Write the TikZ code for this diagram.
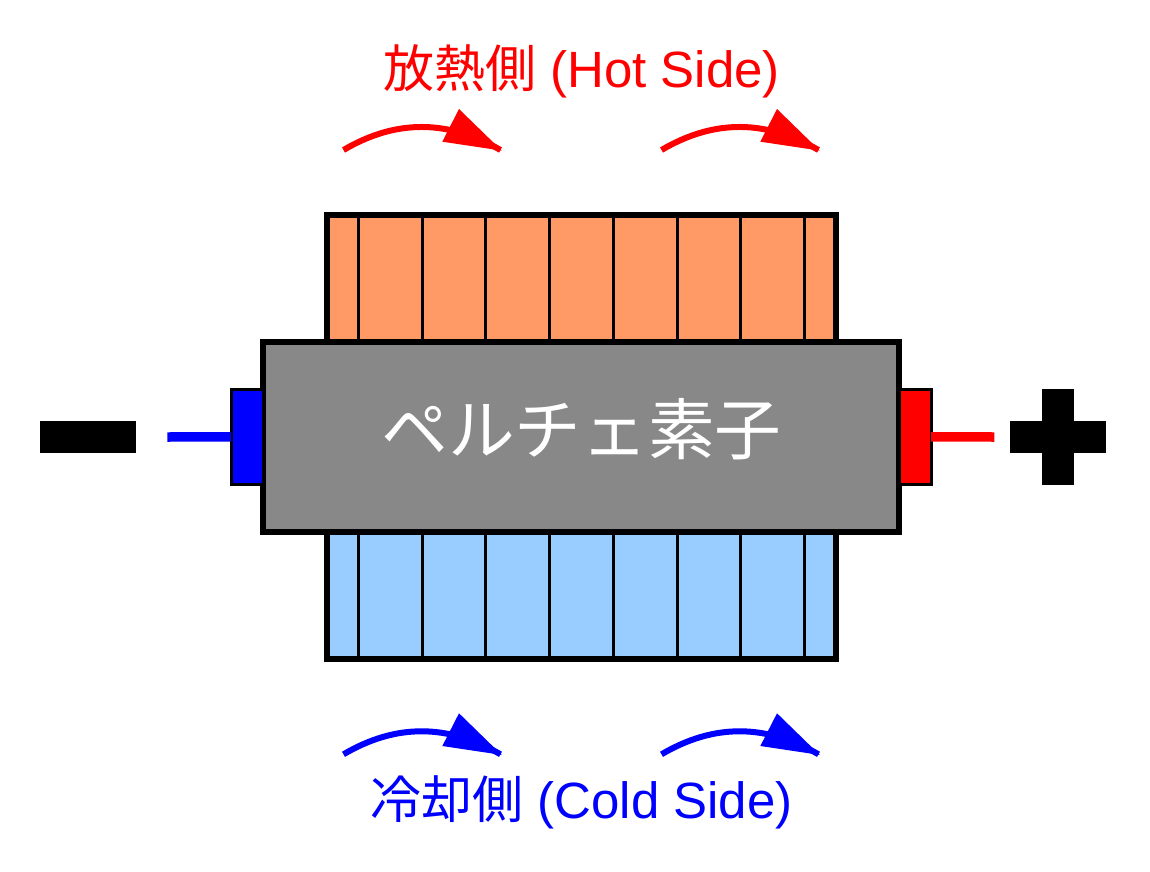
\documentclass[tikz,border=0pt]{standalone}
\usepackage{fontspec}
\setmainfont{Liberation Sans}
\newfontfamily\cjk{Noto Sans CJK JP}
\definecolor{hotfill}{HTML}{FF9966}
\definecolor{coldfill}{HTML}{99CCFF}
\definecolor{bodyfill}{HTML}{888888}
\definecolor{hotline}{HTML}{FF0000}
\definecolor{coldline}{HTML}{0000FF}
\tikzset{
  plate/.style={draw=black,line width=6pt,inner sep=0pt,outer sep=0pt,anchor=north west},
  fin/.style={draw=black,line width=3pt},
  terminal/.style={draw=black,line width=3pt,inner sep=0pt,outer sep=0pt,anchor=north west,minimum width=32pt,minimum height=95.5pt},
  wire/.style={line width=9.5pt},
  flow/.style={line width=6pt},
  sign/.style={fill=black,draw=none,inner sep=0pt,outer sep=0pt},
  label/.style={inner sep=0pt,font=\fontsize{51}{51}\selectfont},
  bodylabel/.style={inner sep=0pt,font=\fontsize{66.7}{67}\selectfont}
}
\newcommand{\flowarrow}[4]{% name, colour, dx, dy
  \begin{scope}[shift={(#3,#4)}]
    \coordinate (#1s) at (343.5,150);
    \coordinate (#1e) at (500.5,150);
    \draw[flow,#2] (#1s) .. controls (395.7,119.3) and (447.3,119.3) .. (#1e);
    \fill[#2] (459,109) -- (501.7,150.6) -- (442.3,141.7) -- cycle;
  \end{scope}}
\begin{document}
\begin{tikzpicture}[x=1pt,y=-1pt]
\useasboundingbox (0,0) rectangle (1150,871);
\fill[white] (0,0) rectangle (1150,871);
% hot and cold stacks
\node[plate,fill=hotfill,minimum width=509pt,minimum height=127.5pt] (hot) at (326.5,214.5) {};
\node[plate,fill=coldfill,minimum width=509pt,minimum height=127pt] (cold) at (326.5,532) {};
\foreach \x in {358.3,422,485.8,549.5,613.2,677,740.8,804.3}{
  \draw[fin] (\x,214.5) -- (\x,342);
  \draw[fin] (\x,532) -- (\x,659);
}
\draw[black,line width=6pt] (hot.north west) rectangle (hot.south east);
\draw[black,line width=6pt] (cold.north west) rectangle (cold.south east);
% element
\node[plate,fill=bodyfill,minimum width=636pt,minimum height=190.5pt] (body) at (263,341.7) {};
\node[bodylabel,white] (bodytext) at (581.5,429.5) {\cjk ペルチェ素子};
% terminals
\node[terminal,fill=coldline] (neg) at (231,389) {};
\node[terminal,fill=hotline] (pos) at (899,389) {};
\coordinate (negend) at (167.3,437);
\coordinate (posend) at (994.3,437);
\draw[wire,coldline] (negend) -- (neg.west);
\draw[wire,hotline] (pos.east) -- (posend);
% signs
\node[sign,minimum width=95.7pt,minimum height=32pt] (minus) at (87.85,436.7) {};
\node[sign,minimum width=95.7pt,minimum height=32pt] (plush) at (1057.85,436.85) {};
\node[sign,minimum width=32pt,minimum height=95.4pt] (plusv) at (1058,437) {};
% flows
\flowarrow{a}{hotline}{0}{0}
\flowarrow{b}{hotline}{318}{0}
\flowarrow{c}{coldline}{0}{604.3}
\flowarrow{d}{coldline}{318}{604.3}
% captions
\node[label,text=hotline] (hottext) at (581.5,71) {{\cjk 放熱側} (Hot Side)};
\node[label,text=coldline] (coldtext) at (581.5,802) {{\cjk 冷却側} (Cold Side)};
\end{tikzpicture}
\end{document}
